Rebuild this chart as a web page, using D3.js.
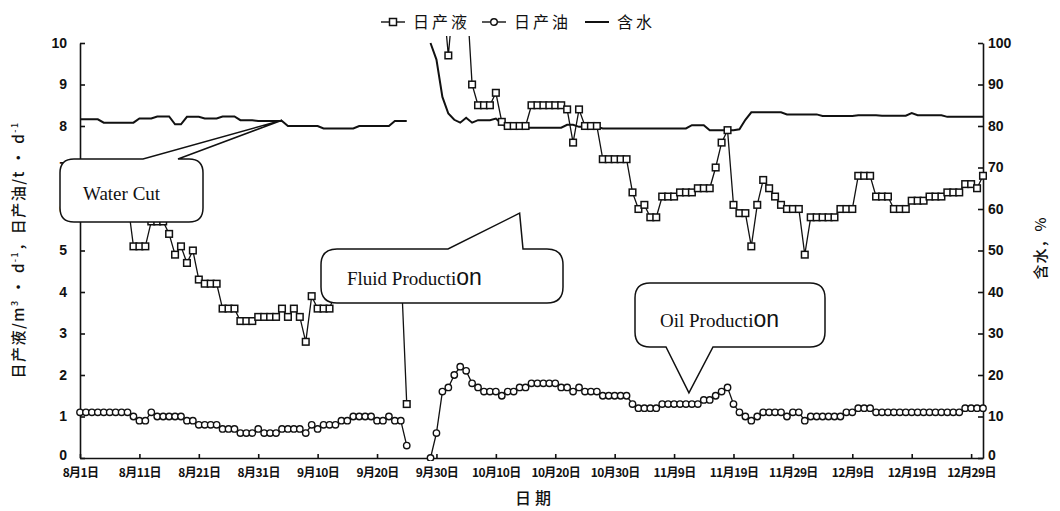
<!DOCTYPE html>
<html>
<head>
<meta charset="utf-8">
<script src="https://cdn.jsdelivr.net/npm/d3@7"></script>
<style>
    body { margin: 0; background: #fff; }
    svg { display: block; }
</style>
</head>
<body>
<div class="chart"></div>
<script>
// one value per day, day 0 = 8月1日, null = no record
var fluid = [
    6.4, 6.5, 6.3, 6.5, 6.6, 6.4, 6.5, 6.3, 6.2, 5.1,
    5.1, 5.1, 5.7, 5.7, 5.7, 5.4, 4.9, 5.1, 4.7, 5.0,
    4.3, 4.2, 4.2, 4.2, 3.6, 3.6, 3.6, 3.3, 3.3, 3.3,
    3.4, 3.4, 3.4, 3.4, 3.6, 3.4, 3.6, 3.4, 2.8, 3.9,
    3.6, 3.6, 3.6, 4.0, 4.0, 4.2, 4.1, 4.3, 4.3, 4.2,
    4.4, 4.5, 4.4, 4.6, 4.7, 1.3, null, null, null, null,
    12.0, 11.3, 9.7, 11.3, 12.2, 11.4, 9.0, 8.5, 8.5, 8.5,
    8.8, 8.1, 8.0, 8.0, 8.0, 8.0, 8.5, 8.5, 8.5, 8.5,
    8.5, 8.5, 8.4, 7.6, 8.4, 8.0, 8.0, 8.0, 7.2, 7.2,
    7.2, 7.2, 7.2, 6.4, 6.0, 6.1, 5.8, 5.8, 6.3, 6.3,
    6.3, 6.4, 6.4, 6.4, 6.5, 6.5, 6.5, 7.0, 7.6, 7.9,
    6.1, 5.9, 5.9, 5.1, 6.1, 6.7, 6.5, 6.3, 6.1, 6.0,
    6.0, 6.0, 4.9, 5.8, 5.8, 5.8, 5.8, 5.8, 6.0, 6.0,
    6.0, 6.8, 6.8, 6.8, 6.3, 6.3, 6.3, 6.0, 6.0, 6.0,
    6.2, 6.2, 6.2, 6.3, 6.3, 6.3, 6.4, 6.4, 6.4, 6.6,
    6.6, 6.5, 6.8
];

var oil = [
    1.1, 1.1, 1.1, 1.1, 1.1, 1.1, 1.1, 1.1, 1.1, 1.0,
    0.9, 0.9, 1.1, 1.0, 1.0, 1.0, 1.0, 1.0, 0.9, 0.9,
    0.8, 0.8, 0.8, 0.8, 0.7, 0.7, 0.7, 0.6, 0.6, 0.6,
    0.7, 0.6, 0.6, 0.6, 0.7, 0.7, 0.7, 0.7, 0.6, 0.8,
    0.7, 0.8, 0.8, 0.8, 0.9, 0.9, 1.0, 1.0, 1.0, 1.0,
    0.9, 0.9, 1.0, 0.9, 0.9, 0.3, null, null, null, 0,
    0.6, 1.6, 1.7, 2.0, 2.2, 2.1, 1.8, 1.7, 1.6, 1.6,
    1.6, 1.5, 1.6, 1.6, 1.7, 1.7, 1.8, 1.8, 1.8, 1.8,
    1.8, 1.7, 1.7, 1.6, 1.7, 1.6, 1.6, 1.6, 1.5, 1.5,
    1.5, 1.5, 1.5, 1.3, 1.2, 1.2, 1.2, 1.2, 1.3, 1.3,
    1.3, 1.3, 1.3, 1.3, 1.3, 1.4, 1.4, 1.5, 1.6, 1.7,
    1.3, 1.1, 1.0, 0.9, 1.0, 1.1, 1.1, 1.1, 1.1, 1.0,
    1.1, 1.1, 0.9, 1.0, 1.0, 1.0, 1.0, 1.0, 1.0, 1.1,
    1.1, 1.2, 1.2, 1.2, 1.1, 1.1, 1.1, 1.1, 1.1, 1.1,
    1.1, 1.1, 1.1, 1.1, 1.1, 1.1, 1.1, 1.1, 1.1, 1.2,
    1.2, 1.2, 1.2
];

var waterCut = [
    81.6, 81.6, 81.6, 81.6, 80.8, 80.8, 80.8, 80.8, 80.8, 80.8,
    81.8, 81.8, 81.8, 82.3, 82.3, 82.3, 80.4, 80.4, 82.2, 82.2,
    82.2, 81.8, 81.8, 81.8, 82.3, 82.3, 82.3, 81.4, 81.4, 81.4,
    81.2, 81.2, 81.2, 81.2, 81.2, 80.0, 80.0, 80.0, 80.0, 80.0,
    80.0, 79.4, 79.4, 79.4, 79.4, 79.4, 79.4, 80.0, 80.0, 80.0,
    80.0, 80.0, 80.0, 81.2, 81.2, 81.2, null, null, null, 100,
    96, 87, 83, 81.5, 80.8, 82.0, 80.8, 81.4, 81.4, 81.4,
    81.8, 80.5, 79.6, 79.6, 79.6, 79.6, 79.6, 79.6, 79.6, 79.6,
    79.6, 79.6, 80.3, 80.3, 79.8, 79.8, 79.8, 79.8, 79.4, 79.4,
    79.4, 79.4, 79.4, 79.4, 79.4, 79.4, 79.4, 79.4, 79.4, 79.4,
    79.4, 79.4, 79.4, 80.2, 80.2, 80.2, 79.0, 79.0, 79.0, 79.0,
    79.0, 79.2, 81.5, 83.3, 83.3, 83.3, 83.3, 83.3, 83.3, 82.8,
    82.8, 82.8, 82.8, 82.8, 82.8, 82.4, 82.4, 82.4, 82.4, 82.4,
    82.4, 82.6, 82.6, 82.6, 82.6, 82.5, 82.5, 82.5, 82.5, 82.5,
    83.1, 82.6, 82.6, 82.6, 82.6, 82.6, 82.2, 82.2, 82.2, 82.2,
    82.2, 82.2, 82.2
];

var tickDays = [0, 10, 20, 30, 40, 50, 60, 70, 80, 90, 100, 110, 120, 130, 140, 150];
var tickLabels = ['8月1日', '8月11日', '8月21日', '8月31日', '9月10日', '9月20日', '9月30日', '10月10日',
    '10月20日', '10月30日', '11月9日', '11月19日', '11月29日', '12月9日', '12月19日', '12月29日'];
var leftTicks = [0, 1, 2, 3, 4, 5, 6, 7, 8, 9, 10];
var rightTicks = [0, 10, 20, 30, 40, 50, 60, 70, 80, 90, 100];
var legendNames = ['日产液', '日产油', '含水'];
var calloutNames = ['Water Cut', 'Fluid Producti', 'Oil Producti'];

var margin = {
    top: 43,
    right: 77,
    bottom: 53,
    left: 80
};
var width = 1060 - margin.left - margin.right;
var height = 511 - margin.top - margin.bottom;

var svg = d3.select('.chart')
    .append('svg')
    .attr('width', 1060)
    .attr('height', 511);

var g = svg.append('g')
    .attr('transform', 'translate(' + margin.left + ', ' + margin.top + ')');

var xScale = d3.scaleLinear().domain([0, fluid.length - 1]).range([0, width]);
var yScale = d3.scaleLinear().domain([0, 10]).range([height, 0]);
var wScale = d3.scaleLinear().domain([0, 100]).range([height, 0]);

/**
 * Axes
 */
var numFont = '"Liberation Sans", Arial, sans-serif';
var cjkFont = '"Noto Sans CJK SC", sans-serif';

var yAxis = d3.axisLeft(yScale).tickValues(leftTicks).tickSizeInner(-5).tickSizeOuter(0).tickPadding(13);
g.append('g').attr('class', 'axis').call(yAxis);

var wAxis = d3.axisRight(wScale).tickValues(rightTicks).tickSizeInner(-5).tickSizeOuter(0).tickPadding(5);
g.append('g').attr('class', 'axis').attr('transform', `translate(${width}, 0)`).call(wAxis);

var xAxis = d3.axisBottom(xScale).tickValues(tickDays).tickSizeInner(-4).tickSizeOuter(0).tickPadding(10)
    .tickFormat((d, i) => tickLabels[i]);
var xg = g.append('g').attr('class', 'axis').attr('transform', `translate(0, ${height})`).call(xAxis);

g.selectAll('.axis path, .axis line').attr('stroke', '#111').attr('stroke-width', 1.6);
g.selectAll('.axis text')
    .attr('fill', '#111')
    .style('font-family', numFont)
    .style('font-weight', 'bold')
    .style('font-size', '14px');
xg.selectAll('text')
    .style('font-family', cjkFont)
    .style('font-size', '12px')
    .style('letter-spacing', '-0.6px');

// lift the two zero labels a little off the date labels
g.selectAll('.axis .tick text').filter(d => d === 0 && !tickDays.includes(d) || false);
g.selectAll('.axis').filter((d, i) => i < 2).selectAll('.tick text')
    .filter(d => d === 0)
    .attr('dy', '0.1em');

// axis titles
var ytitle = svg.append('text')
    .attr('transform', 'translate(24, 250) rotate(-90)')
    .attr('text-anchor', 'middle')
    .style('font-family', cjkFont)
    .style('font-size', '15px')
    .style('font-weight', 500)
    .style('letter-spacing', '1.5px')
    .attr('fill', '#111');
ytitle.append('tspan').text('日产液/m');
ytitle.append('tspan').attr('dy', -6).style('font-size', '9px').text('3');
ytitle.append('tspan').attr('dy', 6).text(' · d');
ytitle.append('tspan').attr('dy', -6).style('font-size', '9px').text('-1');
ytitle.append('tspan').attr('dy', 6).text('，日产油/t · d');
ytitle.append('tspan').attr('dy', -6).style('font-size', '9px').text('-1');

svg.append('text')
    .attr('transform', 'translate(1046, 248) rotate(-90)')
    .attr('text-anchor', 'middle')
    .style('font-family', cjkFont)
    .style('font-size', '15px')
    .style('font-weight', 500)
    .style('letter-spacing', '1px')
    .attr('fill', '#111')
    .text('含水，%');

svg.append('text')
    .attr('x', 535)
    .attr('y', 504)
    .attr('text-anchor', 'middle')
    .style('font-family', cjkFont)
    .style('font-size', '16px')
    .style('font-weight', 500)
    .style('letter-spacing', '4px')
    .attr('fill', '#111')
    .text('日期');

/**
 * Series
 */
g.append('clipPath').attr('id', 'plotclip')
    .append('rect').attr('x', -4).attr('y', -7).attr('width', width + 8).attr('height', height + 10);

var plot = g.append('g').attr('clip-path', 'url(#plotclip)');

var line = d3.line()
    .defined(d => d != null)
    .x((d, i) => xScale(i))
    .y(d => yScale(d));

var wline = d3.line()
    .defined(d => d != null)
    .x((d, i) => xScale(i))
    .y(d => wScale(d));

// water cut
plot.append('path')
    .datum(waterCut)
    .attr('d', wline)
    .attr('fill', 'none')
    .attr('stroke', '#111')
    .attr('stroke-width', 2);

// fluid
plot.append('path')
    .datum(fluid)
    .attr('d', line)
    .attr('fill', 'none')
    .attr('stroke', '#111')
    .attr('stroke-width', 1.3);

plot.selectAll('.sq')
    .data(fluid.map((v, i) => ({ i: i, v: v })).filter(d => d.v != null))
    .enter()
    .append('rect')
    .attr('class', 'sq')
    .attr('x', d => xScale(d.i) - 3.3)
    .attr('y', d => yScale(d.v) - 3.3)
    .attr('width', 6.6)
    .attr('height', 6.6)
    .attr('fill', '#fff')
    .attr('stroke', '#111')
    .attr('stroke-width', 1.5);

// oil
plot.append('path')
    .datum(oil)
    .attr('d', line)
    .attr('fill', 'none')
    .attr('stroke', '#111')
    .attr('stroke-width', 1.3);

plot.selectAll('.ci')
    .data(oil.map((v, i) => ({ i: i, v: v })).filter(d => d.v != null))
    .enter()
    .append('circle')
    .attr('class', 'ci')
    .attr('cx', d => xScale(d.i))
    .attr('cy', d => yScale(d.v))
    .attr('r', 3.2)
    .attr('fill', '#fff')
    .attr('stroke', '#111')
    .attr('stroke-width', 1.4);

/**
 * Legend
 */
var legend = svg.append('g').attr('transform', 'translate(381, 22)');
var legendX = [0, 101, 204];
legendNames.forEach(function (name, i) {
    var item = legend.append('g').attr('transform', `translate(${legendX[i]}, 0)`);
    item.append('line')
        .attr('x1', 0).attr('x2', 24)
        .attr('stroke', '#111')
        .attr('stroke-width', i === 2 ? 2 : 1.4);
    if (i === 0) {
        item.append('rect').attr('x', 8.5).attr('y', -3.5).attr('width', 7).attr('height', 7)
            .attr('fill', '#fff').attr('stroke', '#111').attr('stroke-width', 1.5);
    } else if (i === 1) {
        item.append('circle').attr('cx', 12).attr('r', 3.3)
            .attr('fill', '#fff').attr('stroke', '#111').attr('stroke-width', 1.4);
    }
    item.append('text')
        .attr('x', 32)
        .attr('y', 6)
        .style('font-family', cjkFont)
        .style('font-size', '16px')
        .style('letter-spacing', '3px')
        .attr('fill', '#111')
        .text(name);
});

/**
 * Callouts
 */
function calloutPath(b, side, a1, a2, tip) {
    var x0 = b.x, y0 = b.y, x1 = b.x + b.w, y1 = b.y + b.h, r = b.r;
    var p = d3.path();
    p.moveTo(x0 + r, y0);
    if (side === 'top') {
        p.lineTo(a1, y0);
        p.lineTo(tip[0], tip[1]);
        p.lineTo(a2, y0);
    }
    p.lineTo(x1 - r, y0);
    p.quadraticCurveTo(x1, y0, x1, y0 + r);
    p.lineTo(x1, y1 - r);
    p.quadraticCurveTo(x1, y1, x1 - r, y1);
    if (side === 'bottom') {
        p.lineTo(a2, y1);
        p.lineTo(tip[0], tip[1]);
        p.lineTo(a1, y1);
    }
    p.lineTo(x0 + r, y1);
    p.quadraticCurveTo(x0, y1, x0, y1 - r);
    p.lineTo(x0, y0 + r);
    p.quadraticCurveTo(x0, y0, x0 + r, y0);
    p.closePath();
    return p.toString();
}

var boxes = [
    { box: { x: 60, y: 159, w: 143, h: 63, r: 14 }, side: 'top', a1: 143, a2: 178,
      tip: [margin.left + xScale(34), margin.top + wScale(81.4)], tx: 83, ty: 200, big: false },
    { box: { x: 321, y: 249, w: 242, h: 54, r: 16 }, side: 'top', a1: 448, a2: 523,
      tip: [margin.left + xScale(74), margin.top + yScale(5.9)], tx: 347, ty: 285, big: true },
    { box: { x: 635, y: 283, w: 190, h: 64, r: 15 }, side: 'bottom', a1: 666, a2: 713,
      tip: [margin.left + xScale(102.5), margin.top + yScale(1.57)], tx: 660, ty: 327, big: true }
];

boxes.forEach(function (c, i) {
    svg.append('path')
        .attr('d', calloutPath(c.box, c.side, c.a1, c.a2, c.tip))
        .attr('fill', '#fff')
        .attr('stroke', '#111')
        .attr('stroke-width', 1.5);
    var t = svg.append('text')
        .attr('x', c.tx)
        .attr('y', c.ty)
        .style('font-family', '"Liberation Serif", "Times New Roman", serif')
        .style('font-size', '19px')
        .attr('fill', '#111');
    t.append('tspan').text(calloutNames[i]);
    if (c.big) {
        t.append('tspan')
            .style('font-family', '"Liberation Sans", Arial, sans-serif')
            .style('font-size', '23px')
            .text('on');
    }
});
</script>
</body>
</html>
